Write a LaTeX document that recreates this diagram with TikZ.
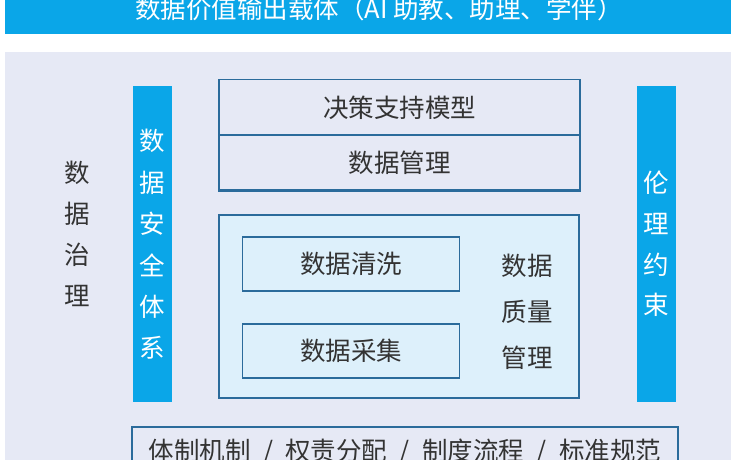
\documentclass[tikz,border=0pt]{standalone}
\usepackage{fontspec}
\setmainfont{Noto Sans CJK SC}
\usepackage{xcolor}
\usepackage{tikz}
\usetikzlibrary{positioning}

\definecolor{barblue}{HTML}{0AA6E8}
\definecolor{panelgray}{HTML}{E6E9F5}
\definecolor{qualfill}{HTML}{DDF0FB}
\definecolor{edgeblue}{HTML}{2B6B9B}
\definecolor{txtgray}{HTML}{333333}

\newcommand{\sepslash}{\hspace{12.5pt}/\hspace{12.5pt}}

\begin{document}
\begin{tikzpicture}[
    x=1pt, y=-1pt,
    bar/.style={fill=barblue, draw=none, minimum width=39pt, minimum height=316pt, inner sep=0pt},
    layer/.style={draw=edgeblue, line width=1.2pt, minimum width=361pt, minimum height=55.5pt, inner sep=0pt, font=\fontsize{25.5}{30}\selectfont, text=txtgray},
    subbox/.style={draw=edgeblue, line width=1.2pt, fill=qualfill, minimum width=217pt, minimum height=54pt, inner sep=0pt, font=\fontsize{25.5}{30}\selectfont, text=txtgray},
    vlbl/.style={align=center, inner sep=0pt, font=\fontsize{25.5}{#1}\selectfont, text=txtgray},
    vlblw/.style={vlbl=#1, text=white},
]
\useasboundingbox (0,0) rectangle (737,460);
\fill[white] (0,0) rectangle (737,460);

% ========== Banner ==========
\node[fill=barblue, minimum width=726pt, minimum height=40pt, inner sep=0pt] (banner) at (368,14) {};
\node[font=\fontsize{25.5}{30}\selectfont, text=white, inner sep=0pt] (bannertxt) at (379,9) {数据价值输出载体（AI 助教、助理、学伴）};

% ========== Panel ==========
\fill[panelgray] (5,52) rectangle (731,470);

% side bars
\node[bar] (secbar) at (152.2,244) {};
\node[bar] (ethbar) at (656.2,244) {};
\node[vlblw=41.4] (seclbl) at (152.2,244.5) {数\\据\\安\\全\\体\\系};
\node[vlblw=40.7] (ethlbl) at (656.5,244) {伦\\理\\约\\束};
\node[vlbl=41] (govlbl) at (77,233.5) {数\\据\\治\\理};

% model / management layers
\node[layer] (decbox) at (399.5,107.3) {决策支持模型};
\node[layer, line width=2.6pt] (mgmtbox) at (399.5,162.8) {数据管理};

% data quality block
\node[draw=edgeblue, line width=1.2pt, fill=qualfill, minimum width=360pt, minimum height=183pt, inner sep=0pt] (qualbox) at (399,306.5) {};
\node[subbox] (cleanbox) at (351,264) {数据清洗};
\node[subbox] (collectbox) at (351,351) {数据采集};
\node[vlbl=46] (quallbl) at (527,312) {数据\\质量\\管理};

% ========== Norms ==========
\node[draw=edgeblue, line width=1.3pt, minimum width=546pt, minimum height=48pt, inner sep=0pt] (normbox) at (405,451) {};
\node[font=\fontsize{25.5}{30}\selectfont, text=txtgray, inner sep=0pt] (normtxt) at (405,452) {体制机制\sepslash 权责分配\sepslash 制度流程\sepslash 标准规范};

\end{tikzpicture}
\end{document}
